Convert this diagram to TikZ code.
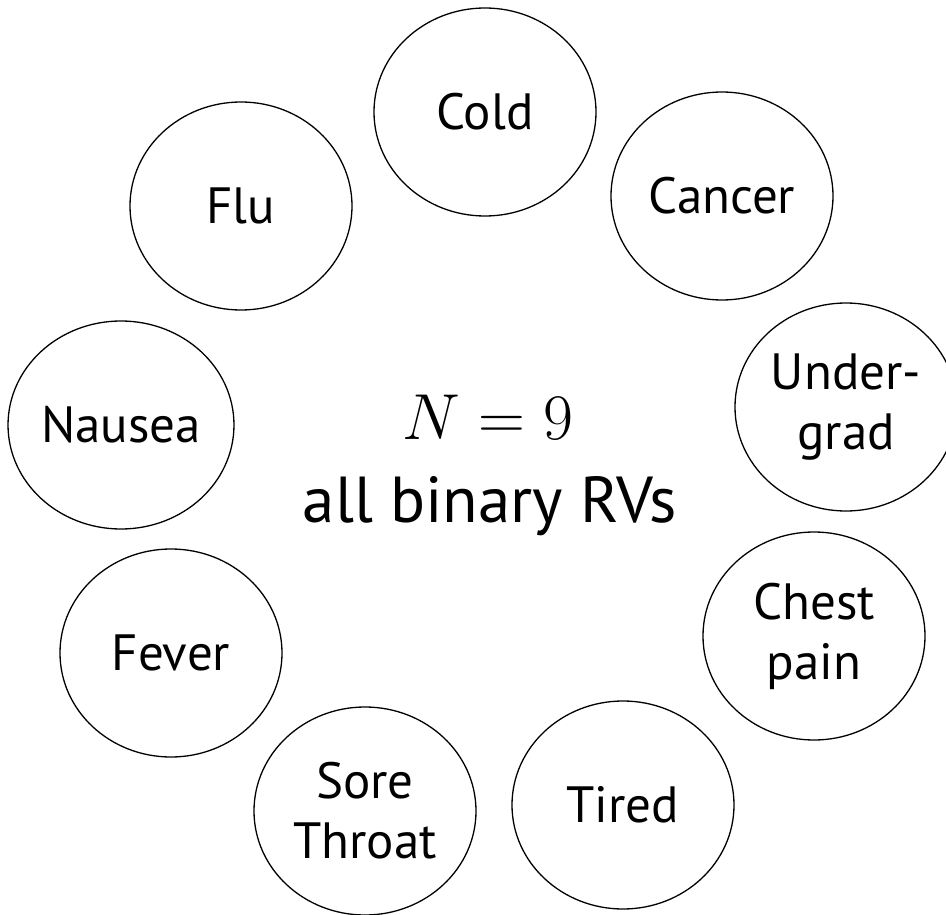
\documentclass[tikz,border=0pt]{standalone}
\usepackage{fix-cm}
\usepackage{fontspec}
\setmainfont{PT Sans}
\usetikzlibrary{shapes.geometric}
\begin{document}
\begin{tikzpicture}[x=1pt,y=-1pt,
  rv/.style={draw=black, line width=1.3pt, ellipse, minimum width=222pt, minimum height=208pt,
    inner sep=0pt, align=center, font=\fontsize{51}{60}\selectfont},
  bigtext/.style={anchor=base, inner sep=0pt, font=\fontsize{65}{83}\selectfont}]
\clip (0,0) rectangle (946,915);
\fill[white] (0,0) rectangle (946,915);
\node[rv] (cold)   at (485,112) {Cold};
\node[rv] (cancer) at (722,196) {Cancer};
\node[rv] (flu)    at (241,206) {Flu};
\node[rv] (under)  at (846,407) {Under-\\grad};
\node[rv] (nausea) at (121,425) {Nausea};
\node[rv] (chest)  at (814,636) {Chest\\pain};
\node[rv] (fever)  at (171,653) {Fever};
\node[rv] (sore)   at (365,811) {Sore\\Throat};
\node[rv] (tired)  at (623,805) {Tired};
\node[bigtext] (nline)  at (488,439) {$N = 9$};
\node[bigtext] (rvline) at (490,522) {all binary RVs};
\end{tikzpicture}
\end{document}
